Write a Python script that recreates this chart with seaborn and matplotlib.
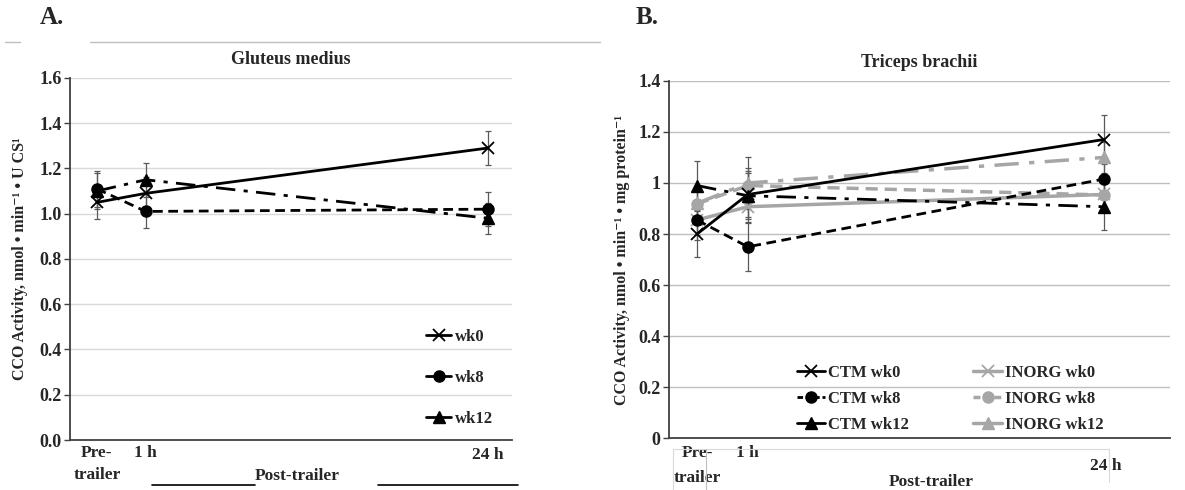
import numpy as np
import pandas as pd
import matplotlib
matplotlib.use("Agg")
import matplotlib.pyplot as plt
import seaborn as sns
from matplotlib.lines import Line2D

# time points (x positions are spaced like the original Excel axis)
times = ["Pre-\ntrailer", "1 h", "24 h"]
xpos = [0, 1, 8]

# A. Gluteus medius (CCO per U CS)
glut_labels = ["wk0", "wk8", "wk12"]
glut_wk0 = [1.05, 1.09, 1.29]
glut_wk8 = [1.11, 1.01, 1.02]
glut_wk12 = [1.10, 1.15, 0.98]
glut_wk0_err = [0.075, 0.07, 0.074]
glut_wk8_err = [0.08, 0.075, 0.075]
glut_wk12_err = [0.08, 0.075, 0.068]

# B. Triceps brachii (CCO per mg protein)
tri_labels = ["CTM wk0", "CTM wk8", "CTM wk12", "INORG wk0", "INORG wk8", "INORG wk12"]
ctm_wk0 = [0.80, 0.955, 1.17]
ctm_wk8 = [0.855, 0.75, 1.015]
ctm_wk12 = [0.99, 0.95, 0.907]
inorg_wk0 = [0.855, 0.907, 0.955]
inorg_wk8 = [0.918, 0.99, 0.953]
inorg_wk12 = [0.92, 1.0, 1.10]
ctm_wk0_err = [0.09, 0.09, 0.095]
ctm_wk8_err = [0.08, 0.095, 0.07]
ctm_wk12_err = [0.095, 0.09, 0.09]
inorg_wk0_err = [0.06, 0.06, 0.05]
inorg_wk8_err = [0.06, 0.07, 0.05]
inorg_wk12_err = [0.07, 0.10, 0.06]

sns.set_style("white")
plt.rcParams['font.family'] = ['Liberation Serif', 'DejaVu Serif']
plt.rcParams['font.weight'] = 'bold'

fig = plt.figure(figsize=(11.85, 4.9), dpi=100)
axA = fig.add_axes([0.0591, 0.102, 0.373, 0.739])
axB = fig.add_axes([0.5646, 0.1055, 0.4224, 0.7295])

BLACK = "black"
GRAY = "#a6a6a6"
ERR = "#595959"

styles = {
    "wk0": dict(marker="x", ls="-", ms=9, mew=1.3),
    "wk8": dict(marker="o", ls=(0, (3.5, 2)), ms=8, mew=1),
    "wk12": dict(marker="^", ls=(0, (7, 3, 1.5, 3)), ms=8, mew=1),
}


def draw(ax, y, err, color, kind, label, lw=2):
    df = pd.DataFrame({"x": xpos, "y": y})
    st = styles[kind]
    ax.errorbar(xpos, y, yerr=err, fmt="none", ecolor=ERR, elinewidth=0.9,
                capsize=2.5, capthick=0.9, zorder=2)
    sns.lineplot(data=df, x="x", y="y", ax=ax, color=color, lw=lw,
                 linestyle=st["ls"], marker=st["marker"], markersize=st["ms"],
                 markeredgewidth=st["mew"], markeredgecolor=color,
                 label=label, legend=False, zorder=3)


# ---- panel A
draw(axA, glut_wk12, glut_wk12_err, BLACK, "wk12", "wk12")
draw(axA, glut_wk8, glut_wk8_err, BLACK, "wk8", "wk8")
draw(axA, glut_wk0, glut_wk0_err, BLACK, "wk0", "wk0")

# ---- panel B
draw(axB, inorg_wk0, inorg_wk0_err, GRAY, "wk0", "INORG wk0", lw=2.5)
draw(axB, inorg_wk8, inorg_wk8_err, GRAY, "wk8", "INORG wk8", lw=2.5)
draw(axB, inorg_wk12, inorg_wk12_err, GRAY, "wk12", "INORG wk12", lw=2.5)
draw(axB, ctm_wk12, ctm_wk12_err, BLACK, "wk12", "CTM wk12")
draw(axB, ctm_wk8, ctm_wk8_err, BLACK, "wk8", "CTM wk8")
draw(axB, ctm_wk0, ctm_wk0_err, BLACK, "wk0", "CTM wk0")

for ax, ymax, gcol in [(axA, 1.6, "#d9d9d9"), (axB, 1.4, "#bfbfbf")]:
    ax.set_xlim(-0.55, 8.5 if ax is axA else 9.3)
    ax.set_ylim(0, ymax)
    ax.set_yticks(np.arange(0, ymax + 0.01, 0.2))
    ax.yaxis.grid(True, color=gcol, lw=1)
    ax.xaxis.grid(False)
    for s in ["top", "right"]:
        ax.spines[s].set_visible(False)
    ax.spines["left"].set_color("#404040")
    ax.spines["bottom"].set_color("#404040")
    ax.spines["left"].set_linewidth(1.3)
    ax.spines["bottom"].set_linewidth(1.3)
    ax.tick_params(axis="y", labelsize=13, length=4, width=1, color="#404040",
                   left=True, pad=2)
    ax.set_xticks([])
    ax.set_xlabel("")

axA.set_yticklabels(["%.1f" % v for v in np.arange(0, 1.61, 0.2)])
axB.set_yticklabels(["%g" % round(v, 1) for v in np.arange(0, 1.41, 0.2)])

axA.set_title("Gluteus medius", fontsize=13, fontweight="bold", pad=10)
axB.set_title("Triceps brachii", fontsize=13, fontweight="bold", pad=10)
axA.set_ylabel("CCO Activity, nmol • min⁻¹ • U CS¹", fontsize=11.5, fontweight="bold", labelpad=8)
axB.set_ylabel("CCO Activity, nmol • min⁻¹ • mg protein⁻¹", fontsize=11.5, fontweight="bold", labelpad=6)

# category labels under the axes
tr = axA.get_xaxis_transform()
axA.text(0.0, -0.015, times[0], transform=tr, ha="center", va="top", fontsize=12.5, linespacing=1.45)
axA.text(xpos[1], -0.015, times[1], transform=tr, ha="center", va="top", fontsize=12.5)
axA.text(xpos[2], -0.02, times[2], transform=tr, ha="center", va="top", fontsize=12.5)
axA.text(4.1, -0.077, "Post-trailer", transform=tr, ha="center", va="top", fontsize=12.5)

tr = axB.get_xaxis_transform()
axB.text(0.0, -0.02, times[0], transform=tr, ha="center", va="top", fontsize=12.5, linespacing=1.7)
axB.text(xpos[1], -0.02, times[1], transform=tr, ha="center", va="top", fontsize=12.5)
axB.text(xpos[2] + 0.05, -0.055, times[2], transform=tr, ha="center", va="top", fontsize=12.5)
axB.text(4.6, -0.1, "Post-trailer", transform=tr, ha="center", va="top", fontsize=12.5)

# decorative lines like the source figure
def fline(x0, x1, y0, y1, color, lw):
    fig.add_artist(Line2D([x0 / 1185, x1 / 1185], [1 - y0 / 490, 1 - y1 / 490],
                          color=color, lw=lw, transform=fig.transFigure))

fline(5, 20, 42, 42, "#bfbfbf", 1)
fline(90, 600, 42, 42, "#bfbfbf", 1)
fline(152, 255, 485, 485, "black", 1.2)
fline(378, 518, 485, 485, "black", 1.2)
fline(673, 1109, 449, 449, "#d9d9d9", 0.8)
fline(673, 673, 449, 490, "#d9d9d9", 0.8)
fline(706, 706, 449, 490, "#bfbfbf", 0.8)
fline(1109, 1109, 449, 482, "#d9d9d9", 0.8)

# panel letters
fig.text(40 / 1185, 1 - 18 / 490, "A.", fontsize=18, fontweight="bold", va="center")
fig.text(636 / 1185, 1 - 18 / 490, "B.", fontsize=18, fontweight="bold", va="center")

# legends
def handle(color, kind, ls="-", lw=2):
    st = styles[kind]
    return Line2D([], [], color=color, lw=lw, ls=ls, marker=st["marker"],
                  markersize=st["ms"], markeredgewidth=st["mew"], markeredgecolor=color)

hA = [handle(BLACK, k) for k in glut_labels]
axA.legend(hA, glut_labels, loc="lower right", bbox_to_anchor=(0.99, -0.005),
           frameon=False, labelspacing=1.5, handlelength=1.5,
           handletextpad=0.2, prop={"weight": "bold", "size": 12})

hB = [handle(BLACK, "wk0"), handle(BLACK, "wk8", ls=(0, (2, 1))), handle(BLACK, "wk12"),
      handle(GRAY, "wk0", lw=2.5), handle(GRAY, "wk8", ls=(0, (2, 1)), lw=2.5), handle(GRAY, "wk12", lw=2.5)]
axB.legend(hB, tri_labels, ncol=2, loc="lower left", bbox_to_anchor=(0.225, -0.027),
           frameon=False, labelspacing=0.6, handlelength=1.7, handletextpad=0.2,
           columnspacing=3.85, prop={"weight": "bold", "size": 12})

fig.savefig("out.png", dpi=100)
